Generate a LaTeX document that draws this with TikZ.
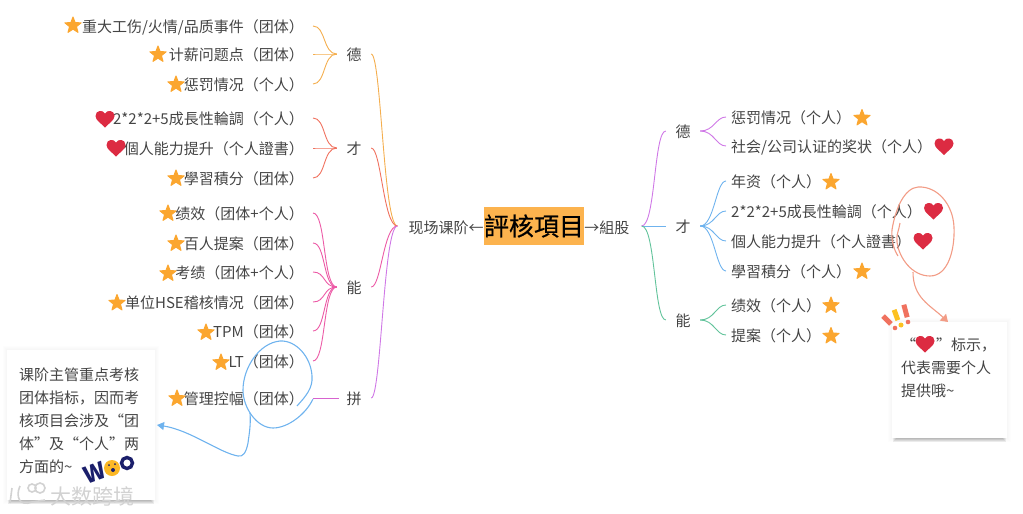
\documentclass[tikz,border=0pt]{standalone}
\usepackage{fontspec}
\setmainfont{Noto Sans CJK SC}
\newfontfamily\titlefont[FakeBold=0.5]{Noto Sans CJK SC}
\usetikzlibrary{shapes.geometric,arrows.meta,calc}
\definecolor{txt}{HTML}{444444}
\definecolor{stc}{HTML}{FBA62F}
\definecolor{hrc}{HTML}{DC2B42}
\definecolor{corg}{HTML}{F4AE4E}
\definecolor{csal}{HTML}{F0725F}
\definecolor{cpink}{HTML}{EC5AA6}
\definecolor{cpur}{HTML}{CF78E6}
\definecolor{cmag}{HTML}{D763CF}
\definecolor{cblue}{HTML}{6FB3EE}
\definecolor{cgrn}{HTML}{62C39B}
\definecolor{cpen}{HTML}{F29C86}
\definecolor{navy}{HTML}{1B1F6B}
\tikzset{
  every node/.style={text=txt,font=\fontsize{15}{18}\selectfont},
  leafl/.style={anchor=east,inner xsep=9pt,inner ysep=0pt,yshift=-1pt},
  leafr/.style={anchor=west,inner xsep=5pt,inner ysep=0pt,yshift=-1pt},
  hub/.style={minimum width=30pt,inner sep=0pt,yshift=-1pt},
  branch/.style={line width=0.9pt},
  ostar/.style={star,star points=5,star point ratio=2.35,fill=stc,draw=stc,line width=1pt,line join=round,minimum size=17pt,inner sep=0pt},
  pen/.style={line width=1.1pt},
  hrt/.pic={\fill[hrc] (0,8.5) .. controls (-3,5) and (-9.5,1.5) .. (-9.5,-3)
     .. controls (-9.5,-9) and (-2,-9.5) .. (0,-5.5)
     .. controls (2,-9.5) and (9.5,-9) .. (9.5,-3)
     .. controls (9.5,1.5) and (3,5) .. (0,8.5) -- cycle;}
}
\newcommand{\softshadow}[4]{%
  \foreach \k in {0,...,3}{
    \fill[black,opacity=.007] (#1-4+\k,#2-4+\k) rectangle (#3+4-\k,#4+4-\k);
  }
  \foreach \k in {1,...,4}{
    \fill[black,opacity=.07] (#1+\k,#4) rectangle (#3-\k,#4+5-\k);
  }
}
\begin{document}
\begin{tikzpicture}[x=1pt,y=-1pt]
\useasboundingbox (0,0) rectangle (1023,514);

% centre
\node[fill=stc!85!white,minimum width=100pt,minimum height=38pt,inner sep=0pt,text=black,font=\fontsize{25}{28}\selectfont\titlefont] (root) at (534,226) {評核項目};
\node[anchor=east,inner sep=0pt,yshift=-2pt] (rl) at (root.west) {现场课阶←};
\node[anchor=west,inner sep=0pt,yshift=-2pt] (rr) at (root.east) {→組股};
\coordinate (rlh) at ([xshift=-11pt,yshift=2pt]rl.west);
\coordinate (rrh) at ([xshift=12pt,yshift=2pt]rr.east);

% left hubs
\node[hub] (ld) at (354,54) {德};
\node[hub] (lc) at (354,148) {才};
\node[hub] (ln) at (354,287) {能};
\node[hub] (lp) at (354,398) {拼};

% left leaves
\node[leafl] (l1) at (313,26) {重大工伤/火情/品质事件（团体）};
\node[leafl] (l2) at (313,54) {计薪问题点（团体）};
\node[leafl] (l3) at (313,84) {惩罚情况（个人）};
\node[leafl] (l4) at (313,118) {2*2*2+5成長性輪調（个人）};
\node[leafl] (l5) at (313,148) {個人能力提升（个人證書）};
\node[leafl] (l6) at (313,178) {學習積分（团体）};
\node[leafl] (l7) at (313,213) {绩效（团体+个人）};
\node[leafl] (l8) at (313,243) {百人提案（团体）};
\node[leafl] (l9) at (313,272) {考绩（团体+个人）};
\node[leafl] (l10) at (313,302) {单位HSE稽核情况（团体）};
\node[leafl] (l11) at (313,331) {TPM（团体）};
\node[leafl] (l12) at (313,361) {LT（团体）};
\node[leafl] (l13) at (313,398) {管理控幅（团体）};

% left marks
\node[ostar] (s1) at (73,25.5) {};
\node[ostar] (s2) at (158,54.5) {};
\node[ostar] (s3) at (176,84.5) {};
\pic at (105,119) {hrt};
\pic at (116,148) {hrt};
\node[ostar] (s6) at (176,178.5) {};
\node[ostar] (s7) at (168,213.5) {};
\node[ostar] (s8) at (176,243.5) {};
\node[ostar] (s9) at (168,273.5) {};
\node[ostar] (s10) at (117,303) {};
\node[ostar] (s11) at (206,332.5) {};
\node[ostar] (s12) at (221,362.5) {};
\node[ostar] (s13) at (177,398.5) {};

% left connectors
\foreach \n in {l1,l2,l3}
  \draw[branch,corg] ([yshift=1pt]\n.east) .. controls +(13,0) and +(-14,0) .. ([xshift=-2pt,yshift=1pt]ld.west);
\foreach \n in {l4,l5,l6}
  \draw[branch,csal] ([yshift=1pt]\n.east) .. controls +(13,0) and +(-14,0) .. ([xshift=-2pt,yshift=1pt]lc.west);
\foreach \n in {l7,l8,l9,l10,l11,l12}
  \draw[branch,cpink] ([yshift=1pt]\n.east) .. controls +(13,0) and +(-14,0) .. ([xshift=-2pt,yshift=1pt]ln.west);
\draw[branch,cmag] ([yshift=1pt]l13.east) -- ([yshift=1pt]lp.west);

\draw[branch,corg] ([xshift=2pt,yshift=1pt]ld.east) .. controls +(10,0) and +(-14,0) .. (rlh);
\draw[branch,csal] ([xshift=2pt,yshift=1pt]lc.east) .. controls +(10,0) and +(-14,0) .. (rlh);
\draw[branch,cpink] ([xshift=2pt,yshift=1pt]ln.east) .. controls +(10,0) and +(-14,0) .. (rlh);
\draw[branch,cpur] ([xshift=2pt,yshift=1pt]lp.east) .. controls +(10,0) and +(-14,0) .. (rlh);

% right hubs
\node[hub] (rd) at (683,131) {德};
\node[hub] (rc) at (683,226) {才};
\node[hub] (rn) at (683,320) {能};

% right leaves
\node[leafr] (r1) at (726,117) {惩罚情况（个人）};
\node[leafr] (r2) at (726,146) {社会/公司认证的奖状（个人）};
\node[leafr] (r3) at (726,181) {年资（个人）};
\node[leafr] (r4) at (726,211) {2*2*2+5成長性輪調（个人）};
\node[leafr] (r5) at (726,241) {個人能力提升（个人證書）};
\node[leafr] (r6) at (726,271) {學習積分（个人）};
\node[leafr] (r7) at (726,305) {绩效（个人）};
\node[leafr] (r8) at (726,335) {提案（个人）};

% right marks
\node[ostar] (q1) at (862,118) {};
\pic at (944,146.5) {hrt};
\node[ostar] (q3) at (831,182) {};
\pic at (933.5,211) {hrt};
\pic at (923,241) {hrt};
\node[ostar] (q6) at (862,271.5) {};
\node[ostar] (q7) at (831,305.5) {};
\node[ostar] (q8) at (831,336) {};

% right connectors
\draw[branch,cpur] (rrh) .. controls +(14,0) and +(-12,0) .. ([xshift=-2pt,yshift=1pt]rd.west);
\draw[branch,cblue] (rrh) -- ([xshift=-2pt,yshift=1pt]rc.west);
\draw[branch,cgrn] (rrh) .. controls +(14,0) and +(-12,0) .. ([xshift=-2pt,yshift=1pt]rn.west);
\foreach \n in {r1,r2}
  \draw[branch,cpur] ([xshift=2pt,yshift=1pt]rd.east) .. controls +(14,0) and +(-10,0) .. ([yshift=1pt]\n.west);
\foreach \n in {r3,r4,r5,r6}
  \draw[branch,cblue] ([xshift=2pt,yshift=1pt]rc.east) .. controls +(14,0) and +(-10,0) .. ([yshift=1pt]\n.west);
\foreach \n in {r7,r8}
  \draw[branch,cgrn] ([xshift=2pt,yshift=1pt]rn.east) .. controls +(14,0) and +(-10,0) .. ([yshift=1pt]\n.west);

% left note
\softshadow{7}{350}{155}{500}
\fill[white] (7,350) rectangle (155,500);
\node[anchor=north west,inner sep=0pt,align=left,text width=125pt,font=\fontsize{15}{23}\selectfont] (nl) at (19,368) {课阶主管重点考核\\团体指标，因而考\\核项目会涉及“团\\体”及“个人”两\\方面的\textasciitilde};
\coordinate (nla) at (157,425);

% WOO sticker
\node[rotate=20,text=navy,font=\fontsize{23}{23}\selectfont\bfseries,inner sep=0pt] (woo1) at (95,473) {W};
\fill[stc!80!yellow] (112,468) circle (8pt);
\fill[navy] (109,465) circle (1pt) (115,464) circle (1pt) (113,470) circle (2pt);
\draw[navy,line width=3.4pt] (127,463) circle (5.5pt);

% watermark
\node[anchor=west,inner sep=0pt,text=gray!35,font=\fontsize{21}{21}\selectfont] (wm) at (50,496) {大数跨境};
\draw[gray!35,line width=1.6pt] (12,488) -- (10,503) (20,486) .. controls (15,497) and (20,507) .. (32,502) -- (45,500)
  (32,488) circle (4pt) (40,488) circle (5pt);

% blue ring and arrow
\draw[pen,cblue] (297,406) .. controls (306,396) and (313,388) .. (312,376)
  .. controls (311,357) and (296,340) .. (280,341)
  .. controls (259,343) and (243,368) .. (243,390)
  .. controls (243,408) and (257,428) .. (273,428)
  .. controls (288,428) and (306,414) .. (313,399);
\draw[pen,cblue,-{Triangle[length=7pt,width=8pt]}] (250,413) .. controls (251,425) and (249,435) .. (248,443)
  .. controls (246,453) and (243,457) .. (238,456)
  .. controls (220,453) and (190,430) .. (nla);

% right note
\softshadow{892}{322}{1007}{438}
\fill[white] (892,322) rectangle (1007,438);
\node[anchor=north west,inner sep=0pt,align=left,text width=100pt,font=\fontsize{15}{23}\selectfont] (nr) at (901,338) {“\hspace{20pt}”标示，\\代表需要个人\\提供哦\textasciitilde};
\pic at (925,344) {hrt};

% salmon ring and arrow
\coordinate (nra) at (948,322);
\draw[pen,cpen] (900,223) .. controls (899,230) and (896,235) .. (897,242)
  .. controls (899,258) and (912,276) .. (930,276)
  .. controls (948,276) and (955,250) .. (954,227)
  .. controls (953,205) and (938,186) .. (918,187)
  .. controls (904,188) and (895,210) .. (892,230)
  .. controls (891,240) and (894,250) .. (898,256);
\draw[pen,cpen,-{Triangle[length=7pt,width=9pt]}] (913,272) .. controls (913,298) and (930,305) .. (nra);

% exclamation marks
\fill[csal,rotate around={45:(887,320)}] (884.5,314.5) rectangle (889.5,325.5);
\fill[csal] (895,328) circle (2.3pt);
\fill[stc!70!yellow,rotate around={20:(896,315)}] (893.5,309.5) rectangle (898.5,320.5);
\fill[stc!70!yellow] (901,325) circle (2.5pt);
\fill[csal,rotate around={15:(905.5,311)}] (903,304.5) rectangle (908,317.5);
\fill[csal] (908,322) circle (2.3pt);
\end{tikzpicture}
\end{document}
